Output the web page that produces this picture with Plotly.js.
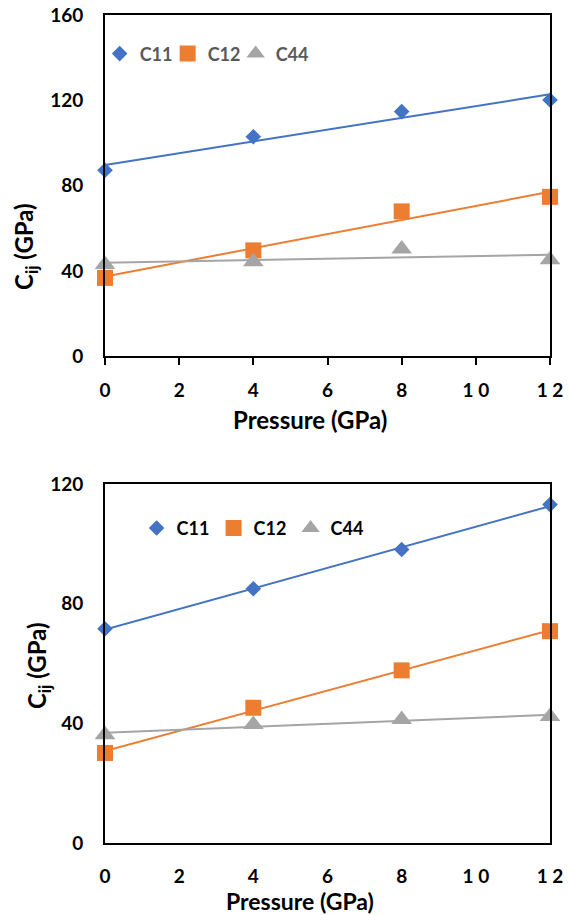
<!DOCTYPE html>
<html>
<head>
<meta charset="utf-8">
<script src="https://cdn.plot.ly/plotly-3.0.1.min.js"></script>
<style>html,body{margin:0;padding:0;background:#fff}#chart{width:570px;height:915px}</style>
</head>
<body>
<div id="chart"></div>
<script>
// ---- data ----
const pressure = [0, 4, 8, 12];
const xTickVals = [0, 2, 4, 6, 8, 10, 12];
const xTickText = ['0', '2', '4', '6', '8', '1 0', '1 2'];
const seriesNames = ['C11', 'C12', 'C44'];

// top panel
const topC11 = [87.2, 102.9, 114.7, 120.1];
const topC12 = [36.7, 49.6, 67.9, 74.7];
const topC44 = [43.0, 44.3, 50.3, 45.2];
const topYTicks = [0, 40, 80, 120, 160];

// bottom panel
const botC11 = [71.6, 85.0, 98.1, 113.1];
const botC12 = [30.1, 45.2, 57.7, 70.8];
const botC44 = [36.2, 39.6, 41.3, 42.3];
const botYTicks = [0, 40, 80, 120];

const xTitle = 'Pressure (GPa)';
const yTitle = 'C<sub>ij</sub> (GPa)';

// ---- styling ----
const colors = ['#4472C4', '#ED7D31', '#A5A5A5'];
const symbols = ['diamond', 'square', 'triangle-up'];
const sizes = [12, 16, 18];
const FONT = 'Lato, "Open Sans", "DejaVu Sans", sans-serif';

function linFit(x, y) {
  const n = x.length;
  const mx = x.reduce((a, b) => a + b, 0) / n;
  const my = y.reduce((a, b) => a + b, 0) / n;
  let sxy = 0, sxx = 0;
  for (let i = 0; i < n; i++) { sxy += (x[i] - mx) * (y[i] - my); sxx += (x[i] - mx) * (x[i] - mx); }
  const b = sxy / sxx, a = my - b * mx;
  const xs = [Math.min(...x), Math.max(...x)];
  return { x: xs, y: xs.map(v => a + b * v) };
}

const traces = [];
function addPanel(data, xa, ya, legendId) {
  data.forEach((vals, i) => {
    const f = linFit(pressure, vals);
    traces.push({
      x: f.x, y: f.y, xaxis: xa, yaxis: ya, mode: 'lines',
      line: { color: colors[i], width: 2 }, showlegend: false, hoverinfo: 'skip', cliponaxis: false
    });
  });
  data.forEach((vals, i) => {
    const t = {
      x: pressure, y: vals, xaxis: xa, yaxis: ya, mode: 'markers', name: seriesNames[i],
      legend: legendId, cliponaxis: false,
      marker: { symbol: symbols[i], size: sizes[i], color: colors[i], line: { width: 0 } }
    };
    if (i === data.length - 1) t.legendwidth = 40;
    traces.push(t);
  });
}
addPanel([topC11, topC12, topC44], 'x', 'y', 'legend');
addPanel([botC11, botC12, botC44], 'x2', 'y2', 'legend2');

const tickFont = { family: FONT, size: 19, color: '#000', weight: 700 };
const titleFont = { family: FONT, size: 24, color: '#000', weight: 700 };
const botTitleFont = { family: FONT, size: 23, color: '#000', weight: 700 };
const baseAxis = {
  showline: true, linecolor: '#000', linewidth: 2, mirror: true,
  showgrid: false, zeroline: false, tickfont: tickFont, fixedrange: true
};

const layout = {
  width: 570, height: 915,
  margin: { l: 105, r: 20, t: 15, b: 72 },
  paper_bgcolor: '#fff', plot_bgcolor: '#fff',
  showlegend: true,
  xaxis: Object.assign({}, baseAxis, {
    domain: [0, 1], anchor: 'y', range: [0, 12], tickvals: xTickVals, ticktext: xTickText,
    ticks: 'outside', ticklen: 7, tickwidth: 2, tickcolor: '#000', ticklabelstandoff: 9
  }),
  yaxis: Object.assign({}, baseAxis, {
    domain: [0.588, 1], anchor: 'x', range: [0, 160], tickvals: topYTicks, ticks: '', ticklabelstandoff: 16
  }),
  xaxis2: Object.assign({}, baseAxis, {
    domain: [0, 1], anchor: 'y2', range: [0, 12], tickvals: xTickVals, ticktext: xTickText,
    ticks: '', ticklabelstandoff: 15
  }),
  yaxis2: Object.assign({}, baseAxis, {
    domain: [0, 0.4336], anchor: 'x2', range: [0, 120], tickvals: botYTicks, ticks: '', ticklabelstandoff: 16
  }),
  legend: {
    orientation: 'h', x: -0.012, y: 0.953, xanchor: 'left', yanchor: 'middle',
    bgcolor: 'rgba(0,0,0,0)', entrywidth: 23, entrywidthmode: 'pixels',
    font: { family: FONT, size: 18, color: '#595959', weight: 700 }
  },
  legend2: {
    orientation: 'h', x: 0.071, y: 0.380, xanchor: 'left', yanchor: 'middle',
    bgcolor: 'rgba(0,0,0,0)', entrywidth: 32, entrywidthmode: 'pixels',
    font: { family: FONT, size: 18, color: '#000', weight: 700 }
  },
  annotations: [
    { text: xTitle, xref: 'paper', yref: 'paper', x: 0.46, y: 0.511, xanchor: 'center', yanchor: 'middle',
      showarrow: false, font: titleFont },
    { text: xTitle, xref: 'paper', yref: 'paper', x: 0.439, y: -0.0695, xanchor: 'center', yanchor: 'middle',
      showarrow: false, font: botTitleFont },
    { text: yTitle, xref: 'paper', yref: 'paper', x: -0.18, y: 0.721, xanchor: 'center', yanchor: 'middle',
      textangle: -90, showarrow: false, font: titleFont },
    { text: yTitle, xref: 'paper', yref: 'paper', x: -0.148, y: 0.2138, xanchor: 'center', yanchor: 'middle',
      textangle: -90, showarrow: false, font: titleFont }
  ]
};

Plotly.newPlot('chart', traces, layout, { staticPlot: true, displayModeBar: false });
</script>
</body>
</html>
